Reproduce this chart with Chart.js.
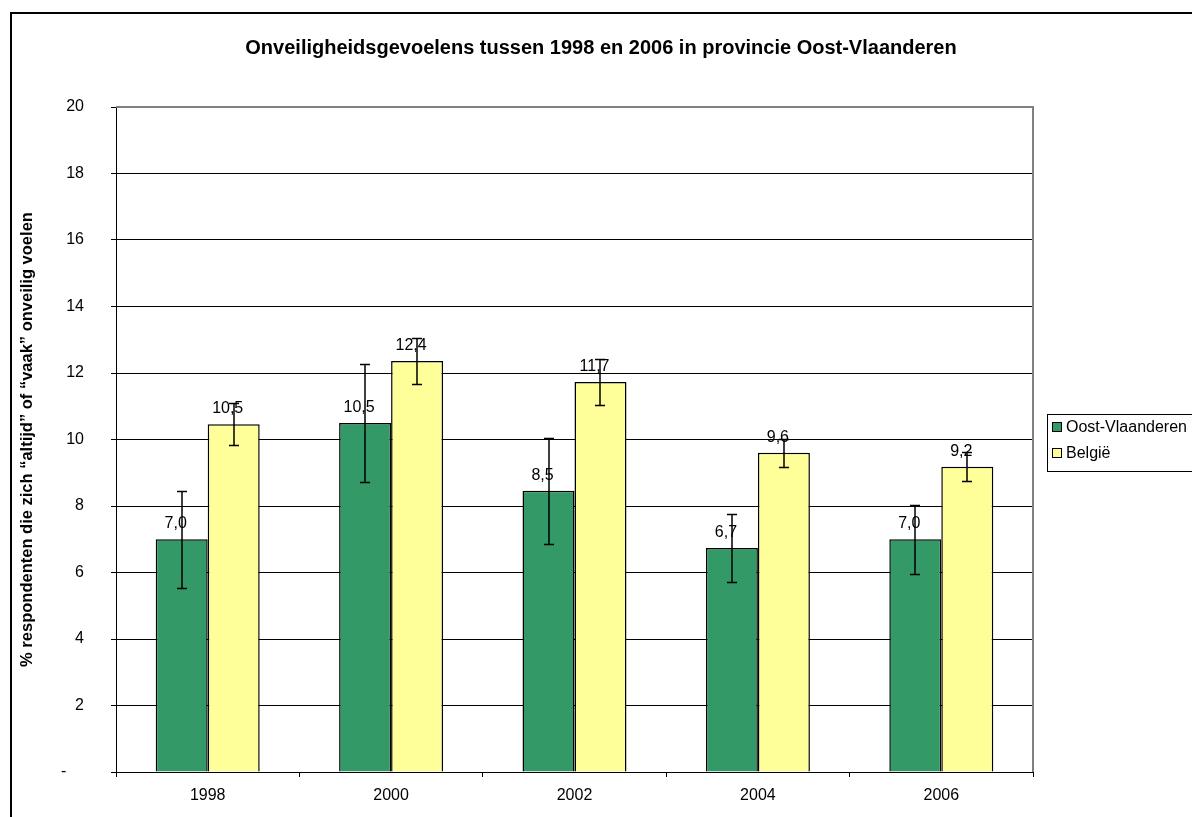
<!DOCTYPE html>
<html>
<head>
<meta charset="utf-8">
<script src="https://cdn.jsdelivr.net/npm/chart.js@4.4.1/dist/chart.umd.min.js"></script>
<style>
  html, body { margin: 0; padding: 0; background: #fff; overflow: hidden; }
  #wrap { position: relative; width: 1192px; height: 817px; }
  #frame { position: absolute; left: 10px; top: 12px; width: 1200px; height: 820px;
           border-left: 2px solid #000; border-top: 2px solid #000; }
  #chart { position: absolute; left: 0; top: 0; }
  #legend { position: absolute; left: 1047px; top: 414px; width: 170px; height: 58px;
            border: 1px solid #000; box-sizing: border-box; padding-left: 4px;
            font: 16px Arial, "Liberation Sans", sans-serif; color: #000; }
  #legend .item { position: relative; top: -1px; height: 26px; display: flex; align-items: center; }
  #legend .sw { width: 8px; height: 8px; border: 1px solid #000; margin-right: 4px; }
</style>
</head>
<body>
<div id="wrap">
  <div id="frame"></div>
  <canvas id="chart" width="1192" height="817"></canvas>
  <div id="legend"></div>
</div>
<script>
const years = ['1998', '2000', '2002', '2004', '2006'];
const seriesNames = ['Oost-Vlaanderen', 'België'];
const oostVlaanderen = [7.0, 10.5, 8.46, 6.74, 7.0];
const belgie = [10.46, 12.36, 11.73, 9.6, 9.18];
// error margins (+/-) read from the whiskers
const oostErr = [1.46, 1.78, 1.6, 1.03, 1.04];
const belgieErr = [0.64, 0.7, 0.68, 0.43, 0.43];
const yTicks = [0, 2, 4, 6, 8, 10, 12, 14, 16, 18, 20];
const colors = ['#339966', '#FFFF99'];

Chart.defaults.font.family = 'Arial, "Liberation Sans", sans-serif';
Chart.defaults.color = '#000';

// value labels above the bars, e.g. "7,0"
const valueLabels = {
  id: 'valueLabels',
  afterDatasetsDraw(chart) {
    const ctx = chart.ctx;
    ctx.save();
    ctx.font = '16px Arial, "Liberation Sans", sans-serif';
    ctx.fillStyle = '#000';
    ctx.textAlign = 'center';
    ctx.textBaseline = 'alphabetic';
    chart.data.datasets.forEach((ds, i) => {
      chart.getDatasetMeta(i).data.forEach((bar, j) => {
        ctx.fillText(ds.data[j].toFixed(1).replace('.', ','), bar.x - 6, bar.y - 11);
      });
    });
    ctx.restore();
  }
};

const errorBars = {
  id: 'errorBars',
  afterDatasetsDraw(chart) {
    const ctx = chart.ctx;
    const y = chart.scales.y;
    ctx.save();
    ctx.strokeStyle = '#000';
    ctx.lineWidth = 1.5;
    chart.data.datasets.forEach((ds, i) => {
      chart.getDatasetMeta(i).data.forEach((bar, j) => {
        const v = ds.data[j], e = ds.errors[j];
        const top = Math.round(y.getPixelForValue(v + e)) + 0.5;
        const bot = Math.round(y.getPixelForValue(v - e)) + 0.5;
        const x = Math.round(bar.x);
        ctx.beginPath();
        ctx.moveTo(x, top); ctx.lineTo(x, bot);
        ctx.moveTo(x - 5, top); ctx.lineTo(x + 5, top);
        ctx.moveTo(x - 5, bot); ctx.lineTo(x + 5, bot);
        ctx.stroke();
      });
    });
    ctx.restore();
  }
};

// gray border on top and right of the plot area
const plotBorder = {
  id: 'plotBorder',
  beforeDatasetsDraw(chart) {
    const { ctx, chartArea: a } = chart;
    ctx.save();
    ctx.strokeStyle = '#808080';
    ctx.lineWidth = 2;
    ctx.beginPath();
    ctx.moveTo(a.left, a.top);
    ctx.lineTo(a.right, a.top);
    ctx.lineTo(a.right, a.bottom);
    ctx.stroke();
    ctx.restore();
  }
};

const chart = new Chart(document.getElementById('chart'), {
  type: 'bar',
  data: {
    labels: years,
    datasets: [
      { label: seriesNames[0], data: oostVlaanderen, errors: oostErr,
        backgroundColor: colors[0], borderColor: '#000', borderWidth: 1.5 },
      { label: seriesNames[1], data: belgie, errors: belgieErr,
        backgroundColor: colors[1], borderColor: '#000', borderWidth: 1.5 }
    ]
  },
  options: {
    responsive: false,
    animation: false,
    categoryPercentage: 0.567,
    barPercentage: 1.0,
    layout: { padding: { left: 10, top: 0, right: 0, bottom: 0 } },
    plugins: {
      legend: { display: false },
      tooltip: { enabled: false },
      title: {
        display: true,
        text: 'Onveiligheidsgevoelens tussen 1998 en 2006 in provincie Oost-Vlaanderen',
        color: '#000',
        font: { size: 20, weight: 'bold' },
        padding: { top: 36, bottom: 47 }
      }
    },
    scales: {
      x: {
        grid: { drawOnChartArea: false, offset: true, tickLength: 5, color: '#000' },
        border: { color: '#000', width: 1 },
        ticks: { font: { size: 16 }, padding: 9, color: '#000' },
        afterFit: s => { s.height = 45; }
      },
      y: {
        min: 0, max: 20,
        afterBuildTicks: s => { s.ticks = yTicks.map(v => ({ value: v })); },
        ticks: { font: { size: 16 }, padding: 27, color: '#000',
                 callback: v => v === 0 ? '-    ' : v },
        grid: { color: '#000', tickLength: 5, tickColor: '#000' },
        border: { color: '#000', width: 1 },
        title: {
          display: true,
          text: '% respondenten die zich “altijd” of “vaak” onveilig voelen',
          color: '#000',
          font: { size: 16.5, weight: 'bold' },
          padding: { top: 8, bottom: 0 }
        },
        afterFit: s => { s.width = 106; }
      },
      // empty axis that keeps the room on the right for the legend
      spacer: {
        position: 'right',
        display: true,
        grid: { display: false },
        border: { display: false },
        ticks: { display: false },
        afterFit: s => { s.width = 159; }
      }
    }
  },
  plugins: [plotBorder, valueLabels, errorBars]
});

// legend built from the series names and colours
const legend = document.getElementById('legend');
seriesNames.forEach((name, i) => {
  const item = document.createElement('div');
  item.className = 'item';
  const sw = document.createElement('span');
  sw.className = 'sw';
  sw.style.background = colors[i];
  item.appendChild(sw);
  item.appendChild(document.createTextNode(name));
  legend.appendChild(item);
});
</script>
</body>
</html>
